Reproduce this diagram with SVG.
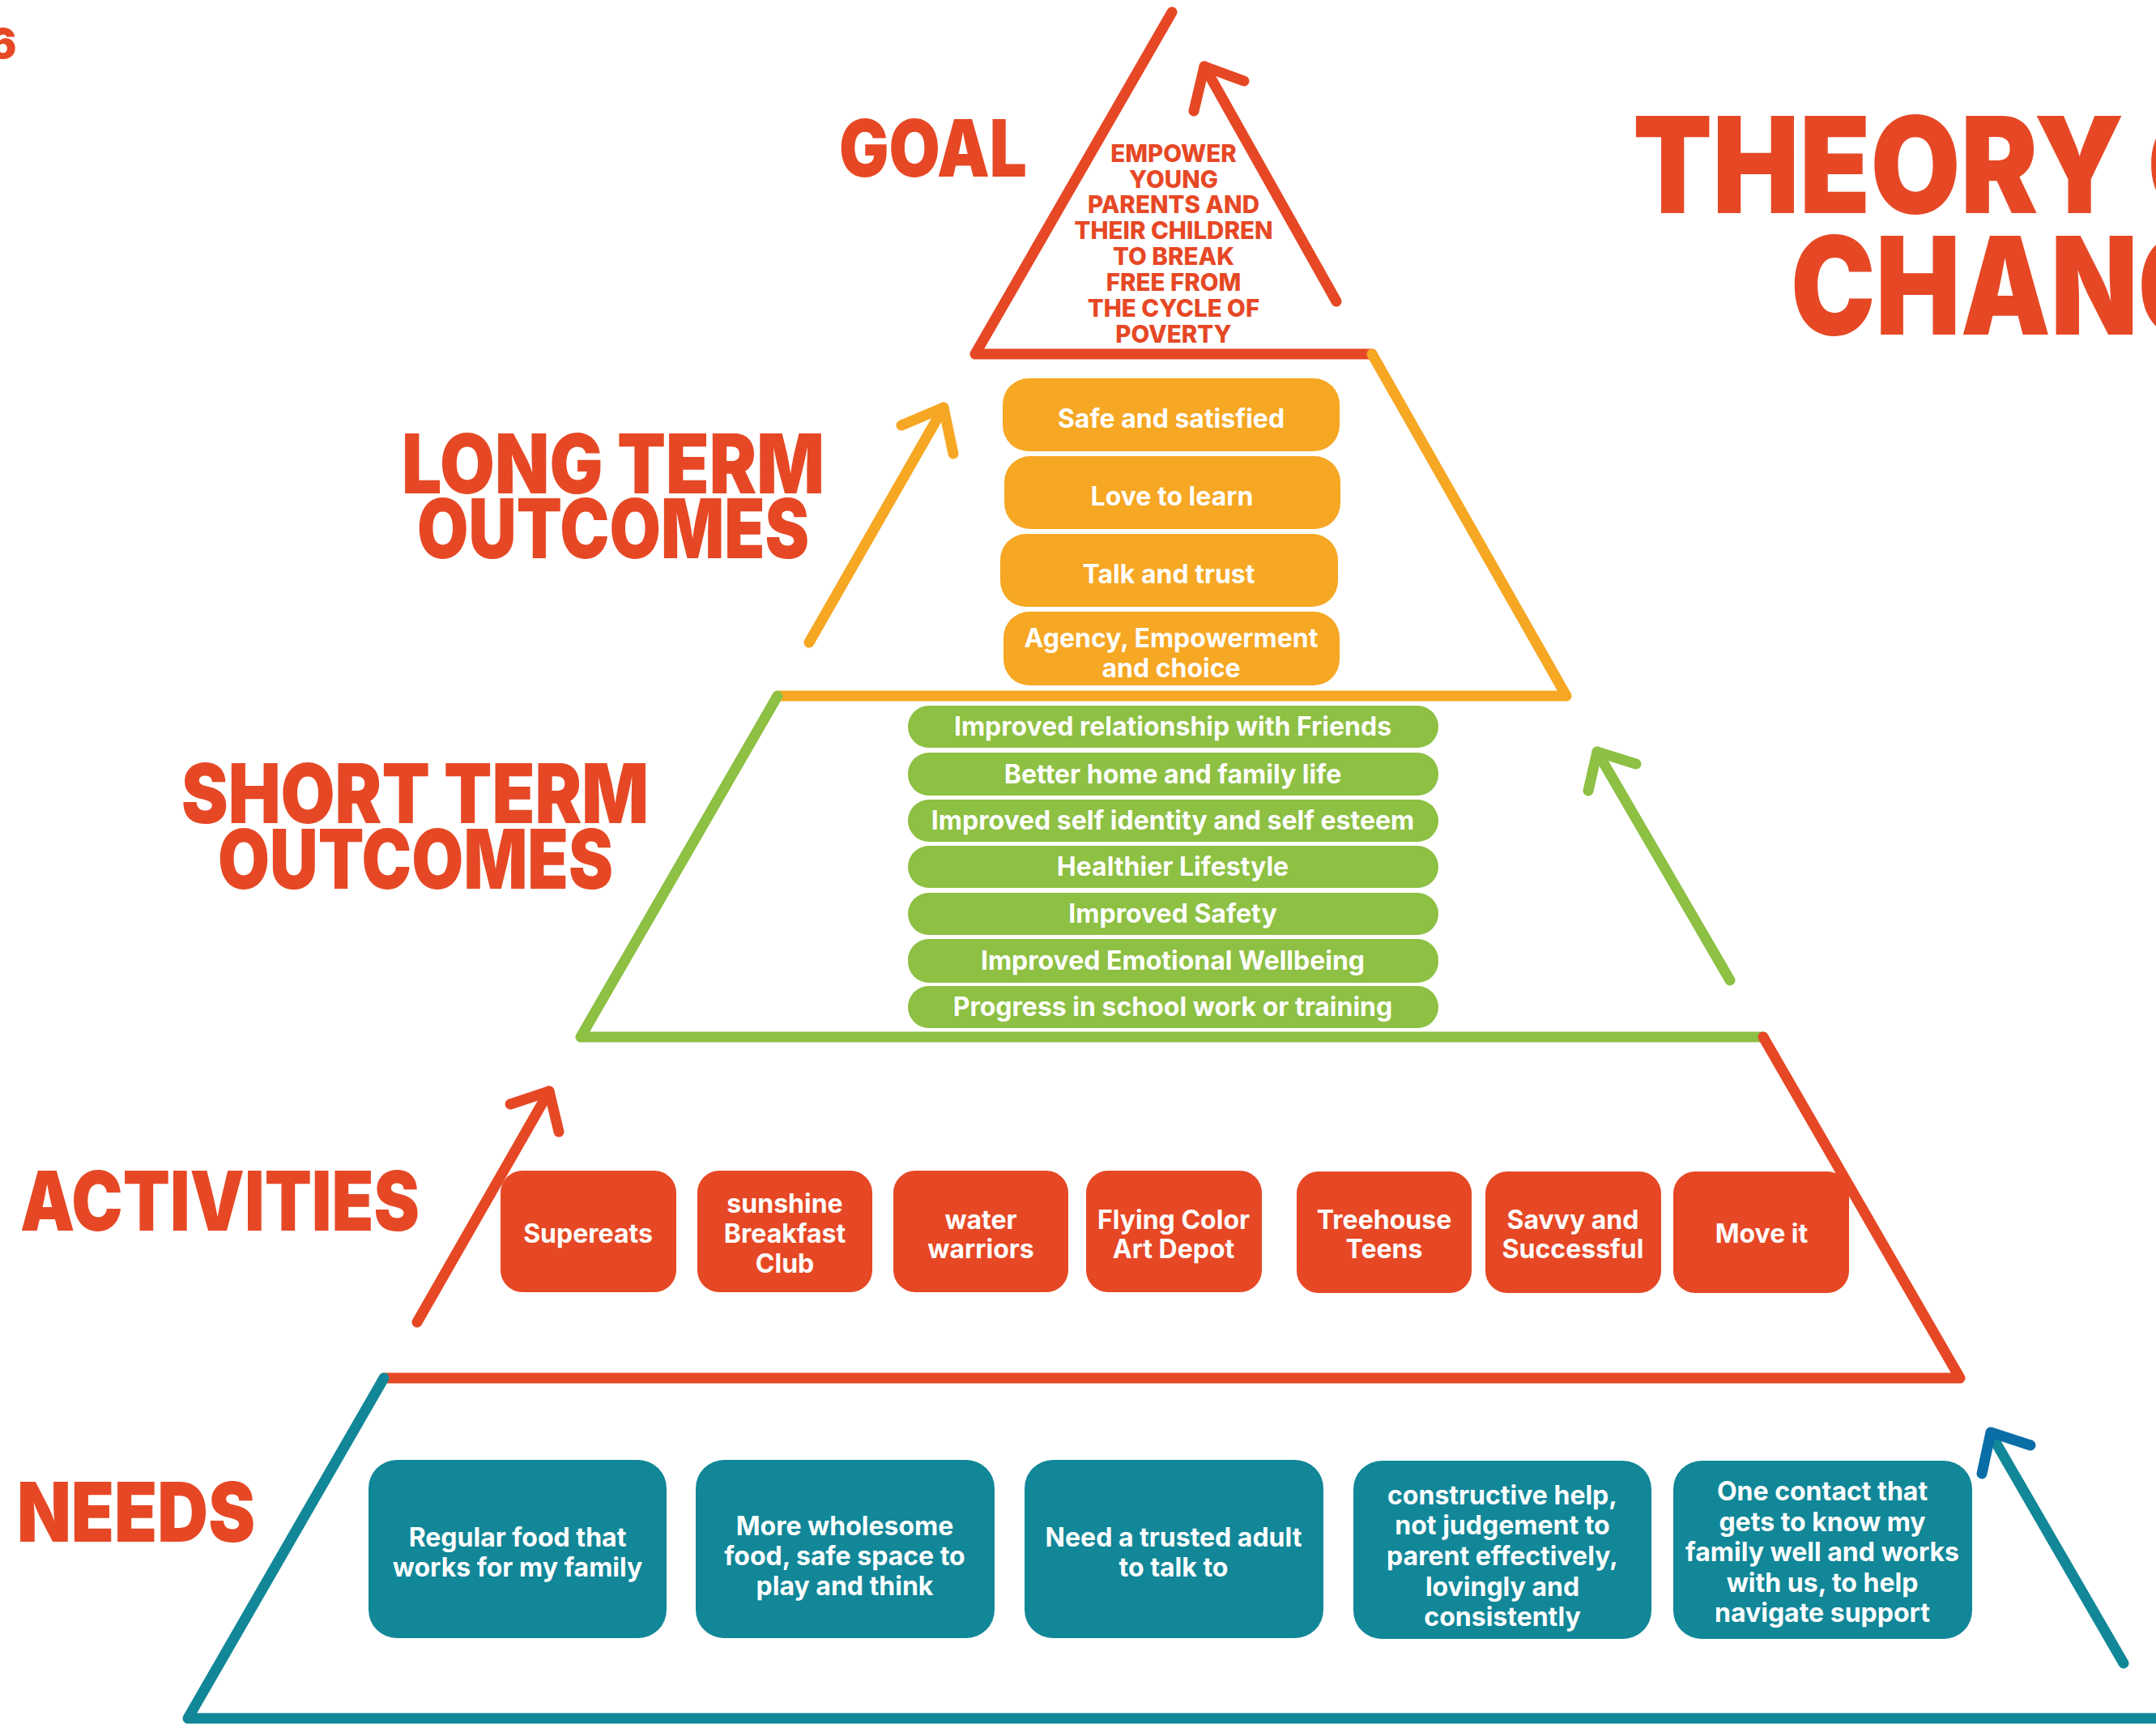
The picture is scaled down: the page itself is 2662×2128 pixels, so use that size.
<svg xmlns="http://www.w3.org/2000/svg" width="2662" height="2128" viewBox="0 0 2662 2128">
<style>
.disp{font-family:Inter,"Liberation Sans",sans-serif;font-weight:900;fill:#E64825}
.goal{font-family:Inter,"Liberation Sans",sans-serif;font-weight:800;font-size:29.5px;fill:#E64825;text-anchor:middle}
.bt{font-family:Inter,"Liberation Sans",sans-serif;font-weight:700;fill:#fff;text-anchor:middle}
.lt{font-size:32px}
.st{font-size:32px}
.ac{font-size:32px}
.nd{font-size:32px}
.ln{fill:none;stroke-width:13;stroke-linecap:round;stroke-linejoin:round}
.red{stroke:#E64825}.yel{stroke:#F6A723}.grn{stroke:#8DC043}.teal{stroke:#118798}.blue{stroke:#0A6EA6}
.by{fill:#F6A723}.bg{fill:#8DC043}.br{fill:#E64825}.bb{fill:#118798}
</style>
<rect width="2662" height="2128" fill="#fff"/>

<g id="pyramid">
<polyline class="ln red" points="1447,15 1204,437 1694,437"/>
<polyline class="ln yel" points="1694,437 1934,859 960,859"/>
<polyline class="ln grn" points="960,859 717,1280 2177,1280"/>
<polyline class="ln red" points="2177,1280 2420,1701 474,1701"/>
<polyline class="ln teal" points="474,1701 232,2121 2670,2121"/>
</g>

<g id="connectors">
<line class="ln red" x1="1650" y1="372" x2="1487" y2="82"/>
<polyline class="ln red" points="1474,137 1487,82 1536,100"/>
<line class="ln yel" x1="999" y1="793" x2="1165" y2="503"/>
<polyline class="ln yel" points="1113,525 1165,503 1177,560"/>
<line class="ln grn" x1="2136" y1="1210" x2="1972" y2="928"/>
<polyline class="ln grn" points="1961,976 1972,928 2020,943"/>
<line class="ln red" x1="515" y1="1632" x2="678" y2="1347"/>
<polyline class="ln red" points="630,1363 678,1347 690,1397"/>
<line class="ln teal" x1="2622" y1="2053" x2="2465" y2="1782"/>
<polyline class="ln blue" points="2447,1819 2458,1768 2507,1784"/>
</g>

<g id="labels">
<text class="disp" x="0" y="72" font-size="51" transform="translate(-14,0)">6</text>
<text class="disp" x="2016" y="263" font-size="165" textLength="830" lengthAdjust="spacingAndGlyphs">THEORY OF</text>
<text class="disp" x="2211" y="413" font-size="168" textLength="620" lengthAdjust="spacingAndGlyphs">CHANGE</text>
<text class="disp" x="1036" y="218" font-size="98" textLength="232" lengthAdjust="spacingAndGlyphs">GOAL</text>
<text class="disp" x="496" y="609" font-size="102" textLength="522" lengthAdjust="spacingAndGlyphs">LONG TERM</text>
<text class="disp" x="515" y="689" font-size="102" textLength="484" lengthAdjust="spacingAndGlyphs">OUTCOMES</text>
<text class="disp" x="224" y="1016" font-size="102" textLength="577" lengthAdjust="spacingAndGlyphs">SHORT TERM</text>
<text class="disp" x="269" y="1097" font-size="102" textLength="488" lengthAdjust="spacingAndGlyphs">OUTCOMES</text>
<text class="disp" x="25" y="1519" font-size="102" textLength="493" lengthAdjust="spacingAndGlyphs">ACTIVITIES</text>
<text class="disp" x="21" y="1903" font-size="102" textLength="294" lengthAdjust="spacingAndGlyphs">NEEDS</text>
</g>

<g id="goal">
<text class="goal" x="1449" y="200">EMPOWER</text>
<text class="goal" x="1449" y="232">YOUNG</text>
<text class="goal" x="1449" y="263">PARENTS AND</text>
<text class="goal" x="1449" y="295">THEIR CHILDREN</text>
<text class="goal" x="1449" y="327">TO BREAK</text>
<text class="goal" x="1449" y="359">FREE FROM</text>
<text class="goal" x="1449" y="391">THE CYCLE OF</text>
<text class="goal" x="1449" y="423">POVERTY</text>
</g>

<g id="lt-safe"><rect class="by" x="1238" y="467" width="416" height="90" rx="32"/><text class="bt lt" x="1446" y="528">Safe and satisfied</text></g>
<g id="lt-love"><rect class="by" x="1240" y="563" width="415" height="90" rx="32"/><text class="bt lt" x="1447" y="624">Love to learn</text></g>
<g id="lt-talk"><rect class="by" x="1235" y="659" width="417" height="90" rx="32"/><text class="bt lt" x="1443" y="720">Talk and trust</text></g>
<g id="lt-agency"><rect class="by" x="1239" y="755" width="415" height="91" rx="32"/><text class="bt lt" x="1446" y="799">Agency, Empowerment</text><text class="bt lt" x="1446" y="836">and choice</text></g>

<g id="st-friends"><rect class="bg" x="1121" y="871" width="655" height="52" rx="26"/><text class="bt st" x="1448" y="908">Improved relationship with Friends</text></g>
<g id="st-home"><rect class="bg" x="1121" y="929" width="655" height="53" rx="26"/><text class="bt st" x="1448" y="967">Better home and family life</text></g>
<g id="st-identity"><rect class="bg" x="1121" y="987" width="655" height="52" rx="26"/><text class="bt st" x="1448" y="1024">Improved self identity and self esteem</text></g>
<g id="st-health"><rect class="bg" x="1121" y="1044" width="655" height="52" rx="26"/><text class="bt st" x="1448" y="1081">Healthier Lifestyle</text></g>
<g id="st-safety"><rect class="bg" x="1121" y="1102" width="655" height="52" rx="26"/><text class="bt st" x="1448" y="1139">Improved Safety</text></g>
<g id="st-wellbeing"><rect class="bg" x="1121" y="1159" width="655" height="54" rx="26"/><text class="bt st" x="1448" y="1197">Improved Emotional Wellbeing</text></g>
<g id="st-progress"><rect class="bg" x="1121" y="1217" width="655" height="52" rx="26"/><text class="bt st" x="1448" y="1254">Progress in school work or training</text></g>

<g id="ac-supereats"><rect class="br" x="618" y="1445" width="217" height="150" rx="27"/><text class="bt ac" x="726" y="1534">Supereats</text></g>
<g id="ac-sunshine"><rect class="br" x="861" y="1445" width="216" height="150" rx="27"/><text class="bt ac" x="969" y="1497">sunshine</text><text class="bt ac" x="969" y="1534">Breakfast</text><text class="bt ac" x="969" y="1571">Club</text></g>
<g id="ac-water"><rect class="br" x="1103" y="1445" width="216" height="150" rx="27"/><text class="bt ac" x="1211" y="1517">water</text><text class="bt ac" x="1211" y="1553">warriors</text></g>
<g id="ac-flying"><rect class="br" x="1341" y="1445" width="217" height="150" rx="27"/><text class="bt ac" x="1449" y="1517">Flying Color</text><text class="bt ac" x="1449" y="1553">Art Depot</text></g>
<g id="ac-treehouse"><rect class="br" x="1601" y="1446" width="216" height="150" rx="27"/><text class="bt ac" x="1709" y="1517">Treehouse</text><text class="bt ac" x="1709" y="1553">Teens</text></g>
<g id="ac-savvy"><rect class="br" x="1834" y="1446" width="217" height="150" rx="27"/><text class="bt ac" x="1942" y="1517">Savvy and</text><text class="bt ac" x="1942" y="1553">Successful</text></g>
<g id="ac-move"><rect class="br" x="2066" y="1446" width="217" height="150" rx="27"/><text class="bt ac" x="2175" y="1534">Move it</text></g>

<g id="nd-food"><rect class="bb" x="455" y="1802" width="368" height="220" rx="35"/><text class="bt nd" x="639" y="1909">Regular food that</text><text class="bt nd" x="639" y="1946">works for my family</text></g>
<g id="nd-space"><rect class="bb" x="859" y="1802" width="369" height="220" rx="35"/><text class="bt nd" x="1043" y="1895">More wholesome</text><text class="bt nd" x="1043" y="1932">food, safe space to</text><text class="bt nd" x="1043" y="1969">play and think</text></g>
<g id="nd-adult"><rect class="bb" x="1265" y="1802" width="369" height="220" rx="35"/><text class="bt nd" x="1449" y="1909">Need a trusted adult</text><text class="bt nd" x="1449" y="1946">to talk to</text></g>
<g id="nd-help"><rect class="bb" x="1671" y="1803" width="368" height="220" rx="35"/><text class="bt nd" x="1855" y="1857">constructive help,</text><text class="bt nd" x="1855" y="1894">not judgement to</text><text class="bt nd" x="1855" y="1932">parent effectively,</text><text class="bt nd" x="1855" y="1970">lovingly and</text><text class="bt nd" x="1855" y="2007">consistently</text></g>
<g id="nd-contact"><rect class="bb" x="2066" y="1803" width="369" height="220" rx="35"/><text class="bt nd" x="2250" y="1852">One contact that</text><text class="bt nd" x="2250" y="1890">gets to know my</text><text class="bt nd" x="2250" y="1927">family well and works</text><text class="bt nd" x="2250" y="1965">with us, to help</text><text class="bt nd" x="2250" y="2002">navigate support</text></g>
</svg>
